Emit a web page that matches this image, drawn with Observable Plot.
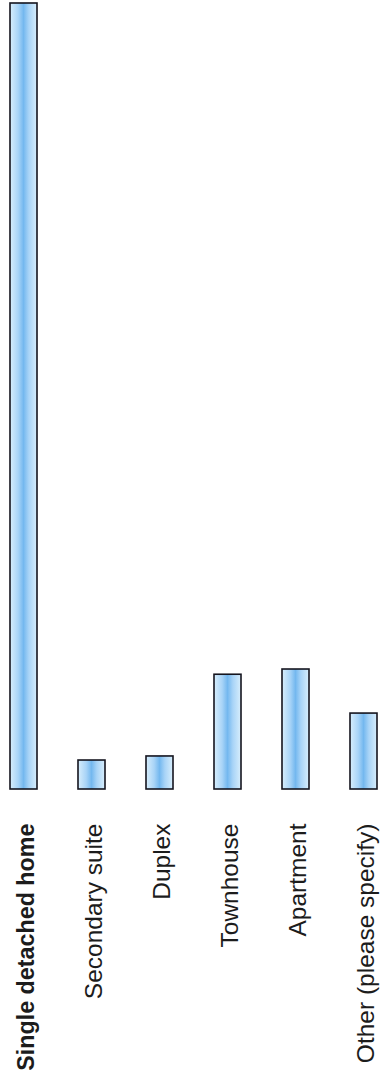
<!DOCTYPE html>
<html>
<head>
<meta charset="utf-8">
<script src="https://cdn.jsdelivr.net/npm/d3@7"></script>
<script src="https://cdn.jsdelivr.net/npm/@observablehq/plot@0.6"></script>
<style>
  html, body { margin: 0; padding: 0; background: #fff; }
  svg { display: block; }
</style>
</head>
<body>
<div id="chart"></div>
<script>
// Housing type shares (percent of respondents)
const categories = ["Single detached home", "Secondary suite", "Duplex", "Townhouse", "Apartment", "Other (please specify)"];
const shares = [67.8, 2.5, 2.85, 9.9, 10.35, 6.55];
const boldCategories = ["Single detached home"];

const data = categories.map((c, i) => ({category: c, share: shares[i]}));

const W = 381, H = 1083;

// Shared options for the rotated category labels under the bars
const labelOpts = {
  x: "category",
  frameAnchor: "bottom",
  text: "category",
  rotate: -90,
  textAnchor: "end",
  lineAnchor: "middle",
  dy: 34,
  dx: 2.5,
  fill: "#1c1c1c"
};

const chart = Plot.plot({
  width: W,
  height: H,
  marginTop: 3,
  marginBottom: 294,
  marginLeft: 0,
  marginRight: 0,
  style: {fontFamily: "'Liberation Sans', Arial, sans-serif", background: "#fff"},
  x: {domain: categories, range: [8, 379.5], paddingInner: 0.61, paddingOuter: 0, axis: null},
  y: {domain: [0, 67.8], axis: null},
  marks: [
    Plot.barY(data, {
      x: "category",
      y: "share",
      fill: "url(#barGradient)",
      stroke: "#15151f",
      strokeWidth: 1.6
    }),
    Plot.text(data.filter(d => !boldCategories.includes(d.category)), {
      ...labelOpts,
      fontSize: 24.5
    }),
    Plot.text(data.filter(d => boldCategories.includes(d.category)), {
      ...labelOpts,
      fontSize: 23.3,
      fontWeight: "bold"
    })
  ]
});

// Horizontal gradient: pale edges, deeper blue down the middle of each bar
const defs = d3.select(chart).insert("defs", ":first-child");
const grad = defs.append("linearGradient")
  .attr("id", "barGradient")
  .attr("x1", "0").attr("x2", "1").attr("y1", "0").attr("y2", "0");
grad.append("stop").attr("offset", "0%").attr("stop-color", "#d8eefc");
grad.append("stop").attr("offset", "30%").attr("stop-color", "#a9d4f7");
grad.append("stop").attr("offset", "50%").attr("stop-color", "#74b8ef");
grad.append("stop").attr("offset", "70%").attr("stop-color", "#a9d4f7");
grad.append("stop").attr("offset", "100%").attr("stop-color", "#d8eefc");

document.getElementById("chart").append(chart);
</script>
</body>
</html>
